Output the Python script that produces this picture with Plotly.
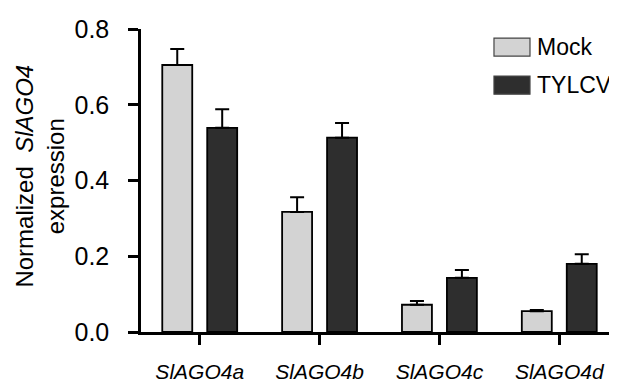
import plotly.graph_objects as go

categories = ["SlAGO4a", "SlAGO4b", "SlAGO4c", "SlAGO4d"]
mock_values = [0.705, 0.317, 0.072, 0.055]
mock_errors = [0.042, 0.039, 0.010, 0.003]
tylcv_values = [0.539, 0.513, 0.143, 0.180]
tylcv_errors = [0.049, 0.039, 0.021, 0.025]
series_names = ["Mock", "TYLCV"]
y_ticks = [0.0, 0.2, 0.4, 0.6, 0.8]
y_ticklabels = ["0.0", "0.2", "0.4", "0.6", "0.8"]

FONT = "Liberation Sans, Arial, sans-serif"
cat_labels = ["<i>%s</i>" % c for c in categories]

fig = go.Figure()
for name, vals, errs, color, off in [
    (series_names[0], mock_values, mock_errors, "#d3d3d3", -0.3125),
    (series_names[1], tylcv_values, tylcv_errors, "#2e2e2e", 0.0625),
]:
    fig.add_trace(go.Bar(
        x=list(range(len(categories))), y=vals, name=name,
        width=0.25, offset=off,
        marker=dict(color=color, line=dict(color="black", width=1.8)),
        error_y=dict(type="data", array=errs, arrayminus=[0] * len(errs),
                     symmetric=False, color="black", thickness=2, width=7),
        showlegend=False,
    ))

fig.update_layout(
    width=617, height=382,
    margin=dict(l=133, r=7, t=12, b=51),
    plot_bgcolor="white", paper_bgcolor="white",
    font=dict(family=FONT, color="black", size=22),
    barmode="group",
    xaxis=dict(
        range=[-0.49, 3.49], tickmode="array",
        tickvals=list(range(len(categories))), ticktext=cat_labels,
        showline=True, linecolor="black", linewidth=2.5,
        ticks="outside", ticklen=10, tickwidth=2.5, tickcolor="black",
        tickfont=dict(size=21, family=FONT), ticklabelstandoff=9,
        ticklabeloverflow="allow",
        showgrid=False, zeroline=False,
    ),
    yaxis=dict(
        range=[0, 0.8], tickmode="array", tickvals=y_ticks, ticktext=y_ticklabels,
        showline=True, linecolor="black", linewidth=2.5,
        ticks="outside", ticklen=10, tickwidth=2.5, tickcolor="black",
        tickfont=dict(size=25, family=FONT), ticklabelstandoff=14,
        ticklabeloverflow="allow",
        showgrid=False, zeroline=False,
    ),
)

# y-axis title
fig.add_annotation(
    text="Normalized  <i>SlAGO4</i><br>expression",
    xref="paper", yref="paper", x=-0.2125, y=0.515,
    xanchor="center", yanchor="middle", textangle=-90, showarrow=False,
    font=dict(size=24, family=FONT, color="black"),
)

# legend
legend_items = [(series_names[0], "#d3d3d3", 0.9105, 0.970, 0.940),
                (series_names[1], "#2e2e2e", 0.785, 0.8446, 0.815)]
for name, color, y0, y1, ty in legend_items:
    fig.add_shape(type="rect", xref="paper", yref="paper",
                  x0=0.740, x1=0.8155, y0=y0, y1=y1,
                  fillcolor=color, line=dict(color="#444", width=1.2))
    fig.add_annotation(text=name, xref="paper", yref="paper", x=0.8255, y=ty,
                       xanchor="left", yanchor="middle", showarrow=False,
                       font=dict(size=23, family=FONT, color="black"))

fig.write_html("out.html")
